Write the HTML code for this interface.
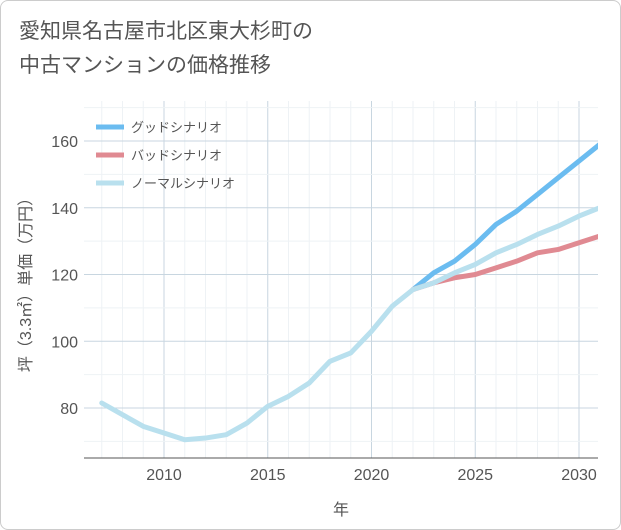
<!DOCTYPE html>
<html><head><meta charset="utf-8">
<style>
body{margin:0;background:#fff;font-family:"Liberation Sans","Noto Sans CJK JP",sans-serif;}
#wrap{position:relative;width:619px;height:528px;border:1px solid #ccc;border-radius:8px;background:#fff;overflow:hidden}
#title{position:absolute;left:18px;top:14px;font-size:21px;line-height:34px;color:#555;}
svg{position:absolute;left:0;top:0}
</style></head><body>
<div id="wrap">
<div id="title">愛知県名古屋市北区東大杉町の<br>中古マンションの価格推移</div>
<svg id="c" width="621" height="530"></svg>
</div>
<script>
const years=[2007,2008,2009,2010,2011,2012,2013,2014,2015,2016,2017,2018,2019,2020,2021,2022,2023,2024,2025,2026,2027,2028,2029,2030,2031];
const normal=[81.5,78,74.5,72.5,70.5,71,72,75.5,80.5,83.5,87.5,94,96.5,103,110.5,115.5,117.5,120.5,123,126.5,129,132,134.5,137.5,140];
const futureYears=[2022,2023,2024,2025,2026,2027,2028,2029,2030,2031];
const good=[115.5,120.5,124,129,135,139,144,149,154,159];
const bad=[115.5,117.5,119,120,122,124,126.5,127.5,129.5,131.5];
const xTicks=[2010,2015,2020,2025,2030];
const yTicks=[80,100,120,140,160];
const seriesNames=["グッドシナリオ","バッドシナリオ","ノーマルシナリオ"];
const L=83,R=597,T=100,B=457;
const x=v=>163+(v-2010)*(578-163)/20;
const y=v=>407-(v-80)*(407-140)/80;
const s=document.getElementById('c');const NS='http://www.w3.org/2000/svg';
function mk(t,a,p){const e=document.createElementNS(NS,t);for(const k in a)e.setAttribute(k,a[k]);(p||s).appendChild(e);return e;}
for(let v=2006;v<=2031;v++){if(x(v)>=L&&x(v)<=R){const major=xTicks.includes(v);const l=mk('line',{x1:x(v),x2:x(v),y1:T,y2:B,stroke:major?'#c8d6e0':'#eef2f5','stroke-width':1});
}}
for(let v=70;v<=170;v+=10){if(y(v)>=T&&y(v)<=B){const major=yTicks.includes(v);const l=mk('line',{x1:L,x2:R,y1:y(v),y2:y(v),stroke:major?'#c8d6e0':'#eef2f5','stroke-width':1});
}}
const ax=mk('line',{x1:L,x2:R,y1:B,y2:B,stroke:'#555','stroke-width':1});

xTicks.forEach(v=>{const t=mk('text',{x:x(v),y:479,'text-anchor':'middle','font-size':16,fill:'#555'});t.textContent=v;
});
yTicks.forEach(v=>{const t=mk('text',{x:77,y:y(v)+6,'text-anchor':'end','font-size':16,fill:'#555'});t.textContent=v;
});
const xt=mk('text',{x:340,y:514,'text-anchor':'middle','font-size':16,fill:'#555'});xt.textContent='年';

const yt=mk('text',{x:0,y:0,transform:'translate(30,280) rotate(-90)','text-anchor':'middle','font-size':16,fill:'#555'});yt.textContent='坪（3.3㎡）単価（万円）';

const cp=mk('clipPath',{id:'cp'});mk('rect',{x:L,y:T,width:R-L,height:B-T},cp);
function line(xs,vs,col,name){const d=xs.map((v,i)=>(i?'L':'M')+x(v)+','+y(vs[i])).join(' ');
const p=mk('path',{d:d,fill:'none',stroke:col,'stroke-width':5,'stroke-linejoin':'round','stroke-linecap':'round','clip-path':'url(#cp)'});
}
line(futureYears,good,'#6bbcf0','good-scenario-line');
line(futureYears,bad,'#e08a92','bad-scenario-line');
line(years,normal,'#b9e0ee','normal-scenario-line');
const cols=['#6bbcf0','#e08a92','#b9e0ee'];
seriesNames.forEach((n,i)=>{const yy=126+i*28;
const g=mk('g',{});
mk('line',{x1:95,x2:123,y1:yy,y2:yy,stroke:cols[i],'stroke-width':5},g);
const t=mk('text',{x:130,y:yy+5,'font-size':13,fill:'#555'},g);t.textContent=n;});
</script>
</body></html>
